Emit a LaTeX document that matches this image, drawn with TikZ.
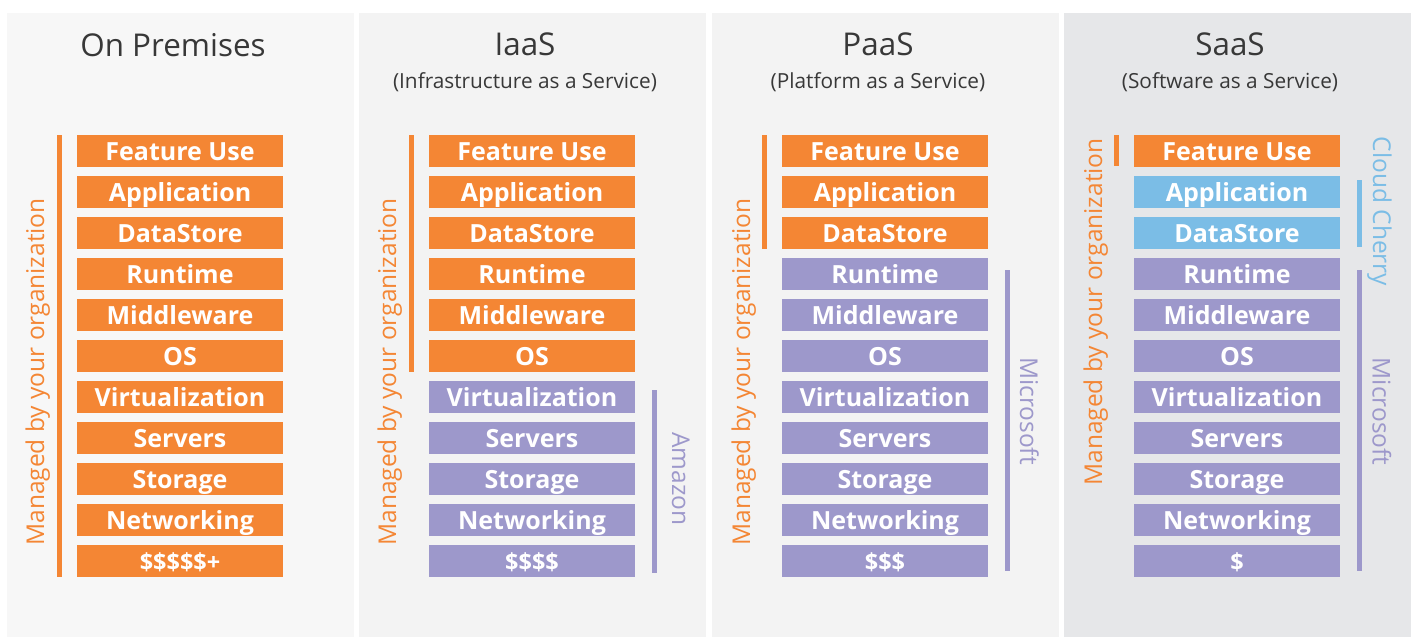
\documentclass[tikz,border=0pt]{standalone}
\usepackage{fontspec}
\setmainfont{Open Sans}
\definecolor{org}{HTML}{F48634}
\definecolor{lav}{HTML}{9D98CB}
\definecolor{sky}{HTML}{7BBDE6}
\definecolor{ink}{HTML}{383838}
\definecolor{paneA}{HTML}{F7F7F7}
\definecolor{paneB}{HTML}{F3F3F3}
\definecolor{paneC}{HTML}{E6E7E9}
\tikzset{
  layer/.style={minimum width=206pt, minimum height=31.7pt, inner sep=0pt,
    text=white, font=\fontsize{25}{30}\selectfont\bfseries,
    text height=18.3pt, text depth=0pt},
  cost/.style={layer, font=\fontsize{23.5}{28}\selectfont\bfseries},
  heading/.style={text=ink, font=\fontsize{31.4}{36}\selectfont, anchor=base, inner sep=0pt},
  subheading/.style={text=ink, font=\fontsize{20.8}{24}\selectfont, anchor=base, inner sep=0pt},
  side/.style={font=\fontsize{24.5}{28}\selectfont, anchor=base, inner sep=0pt},
}
\begin{document}
\begin{tikzpicture}[x=1pt,y=-1pt]
\useasboundingbox (0,0) rectangle (1413,637);
\fill[white] (0,0) rectangle (1413,637);
% column panels
\fill[paneA] (7,13) rectangle (354,637);
\fill[paneB] (359,13) rectangle (706,637);
\fill[paneB] (712,13) rectangle (1059,637);
\fill[paneC] (1064,13) rectangle (1411,637);

% headings
\node[heading] (h1) at (173,56) {On Premises};
\node[heading] (h2) at (525,55) {IaaS};
\node[subheading] (s2) at (525,88.3) {(Infrastructure as a Service)};
\node[heading] (h3) at (878,55) {PaaS};
\node[subheading] (s3) at (878,88.3) {(Platform as a Service)};
\node[heading] (h4) at (1230,55) {SaaS};
\node[subheading] (s4) at (1230,88.3) {(Software as a Service)};

% layer stacks: panel / x offset / orange rows / blue rows
\foreach \p/\off/\no/\nb in {1/0/10/0, 2/352/6/0, 3/705/3/0, 4/1057/1/2} {
  \foreach \t [count=\i from 0] in {Feature Use,Application,DataStore,Runtime,Middleware,OS,Virtualization,Servers,Storage,Networking} {
    \ifnum\i<\no \def\c{org}\else
      \ifnum\i<\numexpr\no+\nb\relax \def\c{sky}\else \def\c{lav}\fi
    \fi
    \node[layer, fill=\c] (p\p b\i) at (\off+180, 135+41*\i+15.85) {\t};
  }
}
% cost rows
\node[cost, fill=org] (p1b10) at (180, 135+410+15.85) {\$\$\$\$\$+};
\node[cost, fill=lav] (p2b10) at (532, 135+410+15.85) {\$\$\$\$};
\node[cost, fill=lav] (p3b10) at (885, 135+410+15.85) {\$\$\$};
\node[cost, fill=lav] (p4b10) at (1237, 135+410+15.85) {\$};

% responsibility bars
\fill[org] (57,135) rectangle (62,577);
\fill[org] (409,135) rectangle (414,372);
\fill[org] (762,135) rectangle (767,249);
\fill[org] (1114,135) rectangle (1119,166);
\fill[lav] (652,390) rectangle (657,573);
\fill[lav] (1005,270) rectangle (1010,571);
\fill[lav] (1357,270) rectangle (1362,571);
\fill[sky] (1357,180) rectangle (1362,247);

% side captions
\node[side, text=org, rotate=90] (m1) at (44,372) {Managed by your organization};
\node[side, text=org, rotate=90] (m2) at (396,372) {Managed by your organization};
\node[side, text=org, rotate=90] (m3) at (750,372) {Managed by your organization};
\node[side, text=org, rotate=90] (m4) at (1102,312) {Managed by your organization};
\node[side, text=lav, rotate=-90] (amz) at (672,479) {Amazon};
\node[side, text=lav, rotate=-90] (ms3) at (1020,411) {Microsoft};
\node[side, text=lav, rotate=-90] (ms4) at (1372.5,411.7) {Microsoft};
\node[side, text=sky, rotate=-90] (cc) at (1373,211.5) {Cloud Cherry};
\end{tikzpicture}
\end{document}
